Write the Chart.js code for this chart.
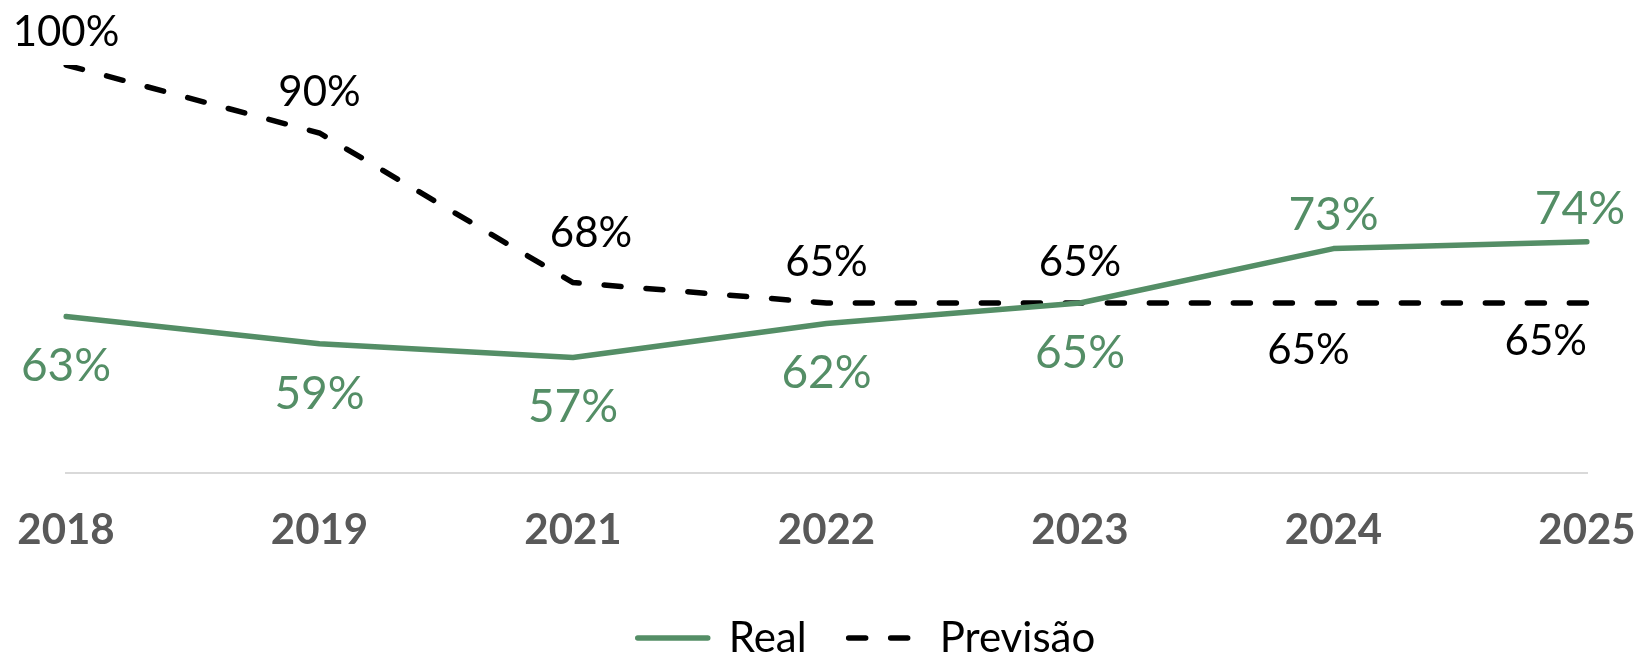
<!DOCTYPE html>
<html lang="pt">
<head>
	<meta charset="UTF-8"/>
	<title>Real vs Previsão</title>
	<script src="https://cdn.jsdelivr.net/npm/chart.js"></script>
	<style>
		html, body {
			margin: 0;
			padding: 0;
			background: #ffffff;
		}
		.wrap {
			width: 1637px;
			height: 653px;
		}
	</style>
</head>
<body>
<div class="wrap">
	<canvas id="myChart" width="1637" height="653"></canvas>
</div>

<script>
	const years = ["2018", "2019", "2021", "2022", "2023", "2024", "2025"];
	const realValues = [63, 59, 57, 62, 65, 73, 74];
	const forecastValues = [100, 90, 68, 65, 65, 65, 65];

	const green = "#548e66";

	// rótulos de dados desenhados à mão (sem plugin externo)
	const valueLabels = {
		id: "valueLabels",
		afterLayout(chart) {
			// a legenda do original fica um pouco à direita do centro
			chart.legend.left += 40;
			chart.legend.right += 40;
		},
		afterDatasetsDraw(chart) {
			const ctx = chart.ctx;
			chart.data.datasets.forEach((ds, i) => {
				const meta = chart.getDatasetMeta(i);
				ctx.save();
				ctx.font = ds.labelSize + "px Lato";
				ctx.fillStyle = ds.labelColor;
				ctx.textBaseline = "middle";
				ctx.textAlign = "center";
				meta.data.forEach((pt, j) => {
					const text = ds.data[j] + "%";
					const w = ctx.measureText(text).width;
					const above = ds.labelPos[j] === "above";
					const nudge = (ds.labelNudge && ds.labelNudge[j]) || [0, 0];
					const y = pt.y + (above ? -ds.labelUp : ds.labelDown) + nudge[1];
					let x = pt.x + nudge[0];
					if (ds.labelAlign && ds.labelAlign[j] === "right") {
						x = pt.x - w / 2;
					}
					x = Math.min(x, chart.width - 12 - w / 2);
					ctx.fillText(text, x, y);
				});
				ctx.restore();
			});
		}
	};

	const ctx = document.getElementById("myChart").getContext("2d");
	const myChart = new Chart(ctx, {
		type: "line",
		data: {
			labels: years,
			datasets: [
				{
					label: "Real",
					data: realValues,
					borderColor: green,
					backgroundColor: green,
					borderWidth: 5.5,
					borderCapStyle: "round",
					borderJoinStyle: "round",
					pointRadius: 0,
					tension: 0,
					labelColor: green,
					labelSize: 46,
					labelUp: 33,
					labelDown: 50,
					labelPos: ["below", "below", "below", "below", "below", "above", "above"]
				},
				{
					label: "Previsão",
					data: forecastValues,
					borderColor: "#000000",
					backgroundColor: "#000000",
					borderWidth: 5.5,
					borderDash: [17, 25],
					borderCapStyle: "round",
					pointRadius: 0,
					tension: 0,
					labelColor: "#000000",
					labelSize: 42,
					labelUp: 41,
					labelDown: 42,
					labelPos: ["above", "above", "above", "above", "above", "below", "below"],
					labelAlign: ["center", "center", "center", "center", "center", "center", "right"],
					labelNudge: [[0, 8], [0, 0], [18, -8], [0, 0], [0, 0], [-25, 5], [0, -4]]
				}
			]
		},
		options: {
			responsive: false,
			animation: false,
			layout: {
				padding: { top: 65, left: 66, right: 50, bottom: -16 }
			},
			scales: {
				x: {
					offset: false,
					grid: { display: false, drawTicks: false },
					border: { display: true, color: "#d9d9d9", width: 2 },
					ticks: {
						padding: 32,
						color: "#595959",
						font: { family: "Lato", size: 42, weight: "bold" }
					},
					afterFit(scale) {
						scale.height = 102;
						scale.paddingLeft = 0;
						scale.paddingRight = 0;
					}
				},
				y: {
					display: false,
					min: 40,
					max: 100
				}
			},
			plugins: {
				legend: {
					position: "bottom",
					labels: {
						usePointStyle: true,
						pointStyle: "line",
						pointStyleWidth: 70,
						padding: 42,
						color: "#000000",
						font: { family: "Lato", size: 42 },
						generateLabels(chart) {
							const items = Chart.defaults.plugins.legend.labels.generateLabels(chart);
							items.forEach(item => {
								const ds = chart.data.datasets[item.datasetIndex];
								item.lineDash = ds.borderDash || [];
								item.lineCap = "round";
								item.lineWidth = ds.borderWidth;
								item.strokeStyle = ds.borderColor;
							});
							return items;
						}
					}
				},
				tooltip: { enabled: false }
			}
		},
		plugins: [valueLabels]
	});
</script>
</body>
</html>
